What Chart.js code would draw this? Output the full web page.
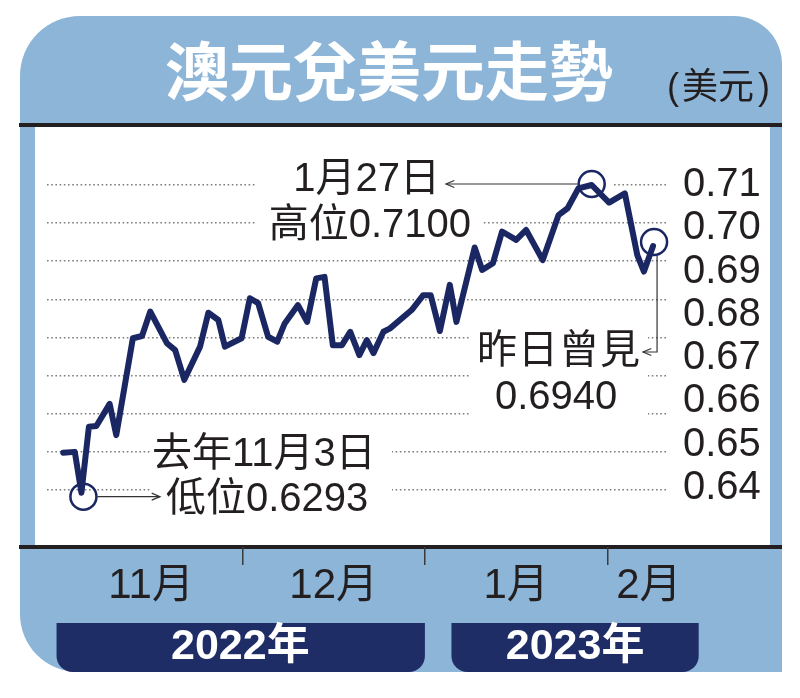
<!DOCTYPE html>
<html>
<head>
<meta charset="utf-8">
<title>澳元兌美元走勢</title>
<script src="https://cdn.jsdelivr.net/npm/chart.js@4"></script>
<style>
  body { margin: 0; background: #fff; }
  canvas { display: block; }
</style>
</head>
<body>
<canvas id="chart" width="800" height="698"></canvas>
<script>
// 交易日序號 (11月1日 = 0) 與澳元兌美元匯率
const day = [-0.1, 1.3, 2.1, 3.0, 3.9, 5.5, 6.3, 8.3, 9.4, 10.4, 12.4, 13.4, 14.5, 16.4, 17.4, 18.6, 19.4,
  21.4, 22.4, 23.4, 24.6, 25.7, 26.6, 28.2, 29.3, 30.4, 31.4, 32.4, 33.5, 34.5, 35.6, 36.5, 37.3, 38.5, 39.3,
  41.9, 43.3, 44.2, 45.3, 46.5, 47.3, 49.5, 50.4, 51.7, 52.8, 54.5, 55.7, 57.7, 59.6, 60.7, 62.0, 63.6,
  65.7, 67.6, 69.1, 69.9, 71.0];
const rate = [0.6398, 0.6400, 0.6293, 0.6466, 0.6468, 0.6526, 0.6444, 0.6698, 0.6704, 0.6768, 0.6685, 0.6667, 0.6589, 0.6676, 0.6765, 0.6746, 0.6676,
  0.6698, 0.6803, 0.6790, 0.6702, 0.6689, 0.6737, 0.6785, 0.6741, 0.6855, 0.6859, 0.6680, 0.6680, 0.6715, 0.6654, 0.6693, 0.6659, 0.6715, 0.6724,
  0.6772, 0.6811, 0.6811, 0.6717, 0.6838, 0.6741, 0.6936, 0.6877, 0.6895, 0.6978, 0.6956, 0.6982, 0.6903, 0.7021, 0.7039, 0.7091, 0.7100,
  0.7054, 0.7078, 0.6916, 0.6873, 0.6940];

const months = ['11月', '12月', '1月', '2月'];
const monthMid = [10.5, 32.5, 54.5, 70.5];
const monthEdge = [21.5, 43.5, 65.5];
const years = ['2022年', '2023年'];
const yearMid = [21.25, 61.6];

const gridVals = [0.63, 0.64, 0.65, 0.66, 0.67, 0.68, 0.69, 0.70, 0.71];
const tickVals = [0.64, 0.65, 0.66, 0.67, 0.68, 0.69, 0.70, 0.71];

// 軸範圍 (圖中刻度字與虛線並不對齊, 所以用兩條軸)
const xMin = -2.05, xMax = 72.8;
const yMin = 0.61505, yMax = 0.72553;
const labelMin = 0.62637, labelMax = 0.72368;

const ink = '#231f20';
const navy = '#1b2762';
const latin = "'Liberation Sans', 'Noto Sans CJK TC', sans-serif";
const narrow = "'Liberation Sans Narrow', 'Liberation Sans', 'Noto Sans CJK TC', sans-serif";

// 藍色外框, 白底, 粗黑線, 年份底框
const frame = {
  id: 'frame',
  beforeDraw(chart) {
    const c = chart.ctx;
    c.save();
    c.fillStyle = '#8db5d7';
    c.beginPath();
    c.moveTo(20, 76);
    c.arcTo(20, 16, 80, 16, 60);
    c.arcTo(782, 16, 782, 64, 48);
    c.lineTo(782, 672);
    c.lineTo(78, 672);
    c.arcTo(20, 672, 20, 614, 58);
    c.closePath();
    c.fill();

    c.fillStyle = '#fff';
    c.fillRect(35, 126, 735, 420);
    c.fillStyle = ink;
    c.fillRect(19, 123, 763, 4);
    c.fillRect(19, 545, 763, 4);

    const xs = chart.scales.x;
    c.fillStyle = '#1f2d66';
    const spans = [[-0.9, 43.5], [46.7, 76.5]];
    spans.forEach(s => {
      const a = xs.getPixelForValue(s[0]), b = xs.getPixelForValue(s[1]);
      c.beginPath();
      c.roundRect(a, 623, b - a, 49, [0, 0, 16, 16]);
      c.fill();
    });

    c.fillStyle = ink;
    c.font = '36px ' + latin;
    c.textBaseline = 'middle';
    c.fillText('(', 667, 89);
    c.fillText('美元', 682, 89);
    c.fillText(')', 758, 89);
    c.restore();
  }
};

function arrowLine(c, pts) {
  c.beginPath();
  c.moveTo(pts[0][0], pts[0][1]);
  for (const p of pts.slice(1)) c.lineTo(p[0], p[1]);
  c.stroke();
  const [x1, y1] = pts[pts.length - 2], [x2, y2] = pts[pts.length - 1];
  const a = Math.atan2(y2 - y1, x2 - x1);
  c.beginPath();
  c.moveTo(x2 - 9 * Math.cos(a - 0.4), y2 - 9 * Math.sin(a - 0.4));
  c.lineTo(x2, y2);
  c.lineTo(x2 - 9 * Math.cos(a + 0.4), y2 - 9 * Math.sin(a + 0.4));
  c.stroke();
}

// 高位/低位/昨日 標註
const notes = {
  id: 'notes',
  beforeDatasetsDraw(chart) {
    // 文字底下的白底, 蓋掉虛線
    const c = chart.ctx;
    c.save();
    c.fillStyle = '#fff';
    c.fillRect(257, 163, 355, 37);
    c.fillRect(255, 203, 227, 43);
    c.fillRect(470, 330, 178, 95);
    c.fillRect(150, 435, 242, 85);
    c.restore();
  },
  afterDatasetsDraw(chart) {
    const c = chart.ctx;
    const xs = chart.scales.x, ys = chart.scales.y;
    const pt = i => ({ x: xs.getPixelForValue(day[i]), y: ys.getPixelForValue(rate[i]) });
    const iLow = rate.indexOf(Math.min(...rate));
    const iHigh = rate.indexOf(Math.max(...rate));
    const iLast = rate.length - 1;
    const lo = pt(iLow), hi = pt(iHigh), last = pt(iLast);

    c.save();
    c.strokeStyle = navy;
    c.lineWidth = 2.5;
    [[lo.x + 2, lo.y + 4], [hi.x, hi.y - 1], [last.x + 1, last.y - 4]].forEach(p => {
      c.beginPath();
      c.arc(p[0], p[1], 13, 0, Math.PI * 2);
      c.stroke();
    });

    c.strokeStyle = '#333';
    c.lineWidth = 1.2;
    arrowLine(c, [[lo.x + 16, lo.y + 4], [160, lo.y + 4]]);
    arrowLine(c, [[hi.x - 14, hi.y - 1], [446, hi.y - 1]]);
    arrowLine(c, [[last.x + 4, last.y + 10], [last.x + 4, 352], [643, 352]]);

    c.fillStyle = ink;
    c.font = '40px ' + latin;
    c.textBaseline = 'middle';
    c.textAlign = 'right';
    c.fillText('1月27日', 440, 180);
    c.fillText('高位' + rate[iHigh].toFixed(4), 471, 226);
    c.textAlign = 'left';
    c.fillText('去年11月3日', 152, 455);
    c.fillText('低位' + rate[iLow].toFixed(4), 166, 500);
    '昨日曾見'.split('').forEach((ch, k) => c.fillText(ch, 477 + k * 41, 352));
    c.fillText(rate[iLast].toFixed(4), 495, 398);
    c.restore();
  }
};

new Chart(document.getElementById('chart'), {
  type: 'line',
  data: {
    datasets: [{
      data: day.map((d, i) => ({ x: d, y: rate[i] })),
      borderColor: navy,
      borderWidth: 6,
      borderJoinStyle: 'round',
      borderCapStyle: 'round',
      pointRadius: 0,
      tension: 0,
      fill: false,
      xAxisID: 'x',
      yAxisID: 'y'
    }]
  },
  options: {
    responsive: false,
    animation: false,
    devicePixelRatio: 1,
    layout: { padding: { left: 0, right: 22, top: 0, bottom: 26 } },
    plugins: {
      legend: { display: false },
      tooltip: { enabled: false },
      title: {
        display: true,
        text: '澳元兌美元走勢',
        color: '#fff',
        font: { family: "'Noto Sans CJK TC', sans-serif", size: 64, weight: 'bold', lineHeight: 1.2 },
        padding: { top: 32, bottom: 17 }
      }
    },
    scales: {
      x: {
        type: 'linear',
        position: 'bottom',
        weight: 0,
        min: xMin,
        max: xMax,
        afterBuildTicks: ax => {
          ax.ticks = monthMid.concat(monthEdge).sort((a, b) => a - b).map(v => ({ value: v }));
        },
        afterFit: ax => { ax.height = 63; },
        border: { display: false },
        grid: {
          drawOnChartArea: false,
          drawTicks: true,
          tickLength: 18,
          lineWidth: 1.5,
          color: ctx => (ctx.tick && monthEdge.includes(ctx.tick.value)) ? '#3a3a3a' : 'rgba(0,0,0,0)'
        },
        ticks: {
          autoSkip: false,
          maxRotation: 0,
          padding: 0,
          color: ink,
          font: { family: narrow, size: 42, lineHeight: 1 },
          callback: v => {
            const k = monthMid.indexOf(v);
            return k >= 0 ? months[k] : '';
          }
        }
      },
      xYear: {
        type: 'linear',
        position: 'bottom',
        weight: 1,
        min: xMin,
        max: xMax,
        afterBuildTicks: ax => { ax.ticks = yearMid.map(v => ({ value: v })); },
        afterFit: ax => { ax.height = 62; },
        border: { display: false },
        grid: { display: false, drawTicks: false },
        ticks: {
          autoSkip: false,
          maxRotation: 0,
          padding: 16,
          color: '#fff',
          font: { family: narrow, size: 43, weight: 'bold', lineHeight: 1 },
          callback: (v, i) => years[i]
        }
      },
      y: {
        position: 'left',
        min: yMin,
        max: yMax,
        afterBuildTicks: ax => { ax.ticks = gridVals.map(v => ({ value: v })); },
        afterFit: ax => { ax.width = 47; },
        ticks: { display: false },
        grid: { color: '#7d7d7d', lineWidth: 1.6, drawTicks: false },
        border: { display: false, dash: [1.6, 2.6] }
      },
      y2: {
        position: 'right',
        min: labelMin,
        max: labelMax,
        afterBuildTicks: ax => { ax.ticks = tickVals.map(v => ({ value: v })); },
        afterFit: ax => { ax.width = 110; },
        grid: { display: false, drawTicks: false },
        border: { display: false },
        ticks: {
          autoSkip: false,
          padding: 15,
          color: ink,
          font: { family: narrow, size: 40, lineHeight: 1 },
          callback: v => v.toFixed(2)
        }
      }
    }
  },
  plugins: [frame, notes]
});
</script>
</body>
</html>
